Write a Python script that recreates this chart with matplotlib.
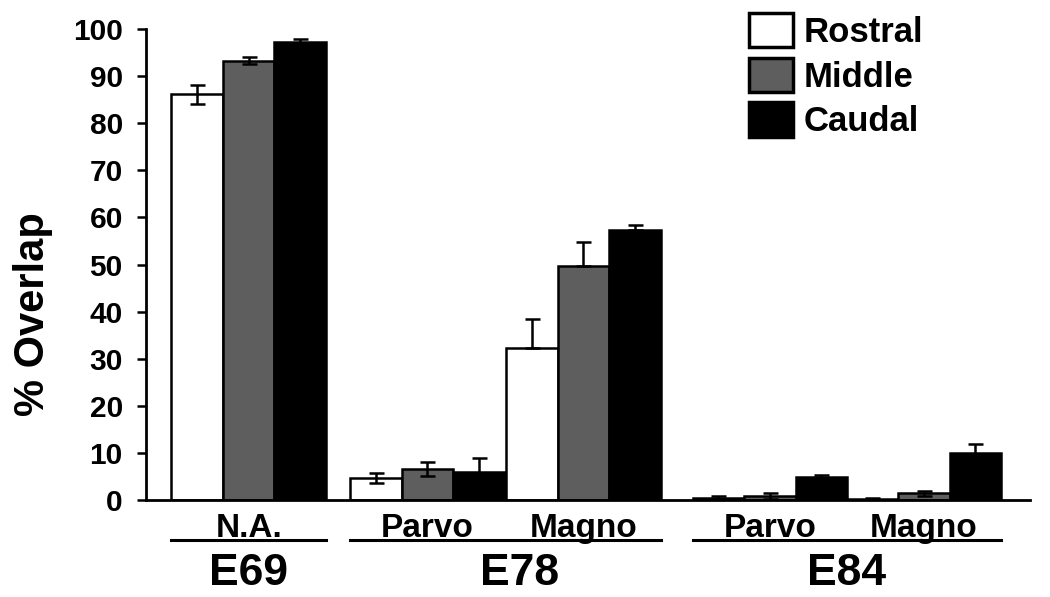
import matplotlib
matplotlib.use("Agg")
import matplotlib.pyplot as plt
import matplotlib.transforms as mtransforms
from matplotlib.lines import Line2D
import numpy as np

plt.rcParams['font.family'] = ['Liberation Sans', 'DejaVu Sans']
plt.rcParams['font.weight'] = 'bold'

# ---- data ----
subgroups = ["N.A.", "Parvo", "Magno", "Parvo", "Magno"]
ages = ["E69", "E78", "E84"]
series = ["Rostral", "Middle", "Caudal"]
rostral = [86.1, 4.7, 32.3, 0.5, 0.2]
middle = [93.3, 6.6, 49.7, 0.9, 1.4]
caudal = [97.2, 6.0, 57.3, 4.8, 9.9]
rostral_err_up = [2.0, 1.0, 6.2, 0.4, 0.2]
middle_err_up = [0.8, 1.5, 5.0, 0.6, 0.5]
caudal_err_up = [0.6, 2.9, 1.1, 0.5, 1.9]
rostral_err_low = [2.0, 1.0, 0.0, 0.4, 0.2]
middle_err_low = [0.8, 1.5, 0.0, 0.6, 0.5]
caudal_err_low = [0.6, 2.9, 0.0, 0.5, 1.9]
yticks = [0, 10, 20, 30, 40, 50, 60, 70, 80, 90, 100]

# ---- layout ----
group_centers = np.array([2.0, 5.47, 8.5, 12.12, 15.11])
age_members = [[0], [1, 2], [3, 4]]
age_label_offsets = [0.0, 0.27, 0.0]
bar_w = 1.0
colors = ["white", "#5e5e5e", "black"]

fig = plt.figure(figsize=(10.5, 5.97), dpi=100)
ax = fig.add_axes([145.7 / 1050, 97 / 597, (1030 - 145.7) / 1050, 471 / 597])

values = [rostral, middle, caudal]
errors = [(rostral_err_low, rostral_err_up),
          (middle_err_low, middle_err_up),
          (caudal_err_low, caudal_err_up)]
handles = []
for i, (vals, errs, col, name) in enumerate(zip(values, errors, colors, series)):
    xs = group_centers + (i - 1) * bar_w
    b = ax.bar(xs, vals, width=bar_w, color=col, edgecolor="black",
               linewidth=1.8, label=name, zorder=2)
    handles.append(b)
    ax.errorbar(xs, vals, yerr=[errs[0], errs[1]], fmt="none", ecolor="black",
                elinewidth=1.8, capsize=5.4, capthick=1.8, zorder=3)

ax.set_xlim(0, 17.17)
ax.set_ylim(0, 100)
ax.set_yticks(yticks)
ax.set_yticklabels([str(t) for t in yticks], fontsize=21.5, fontweight="bold")
ax.tick_params(axis="y", direction="out", length=6.5, width=1.8, pad=10)
ax.tick_params(axis="x", bottom=False, labelbottom=False)
for s in ["top", "right"]:
    ax.spines[s].set_visible(False)
for s in ["left", "bottom"]:
    ax.spines[s].set_linewidth(2.0)

ax.set_ylabel("% Overlap", fontsize=30, fontweight="bold")
ax.yaxis.set_label_coords(-0.105, 0.395)

# sub-labels and group labels below the axis
trans = mtransforms.blended_transform_factory(ax.transData, ax.transAxes)
for c, lab in zip(group_centers, subgroups):
    ax.text(c, -0.0786, lab, transform=trans, ha="center", va="baseline",
            fontsize=24, fontweight="bold")
for members, age, off in zip(age_members, ages, age_label_offsets):
    left = group_centers[members[0]] - 1.5 * bar_w
    right = group_centers[members[-1]] + 1.5 * bar_w
    ax.add_line(Line2D([left, right], [-0.085, -0.085], transform=trans,
                       color="black", linewidth=2.2, clip_on=False))
    ax.text((left + right) / 2 + off, -0.180, age, transform=trans,
            ha="center", va="baseline", fontsize=32, fontweight="bold")

leg = fig.legend(handles=handles, labels=series, loc="upper left",
                 bbox_to_anchor=(749 / 1050, 1 - 13 / 597), frameon=False,
                 fontsize=25, handlelength=1.27, handleheight=1.15,
                 handletextpad=0.3, labelspacing=0.25, borderpad=0,
                 borderaxespad=0)
for t in leg.get_texts():
    t.set_fontweight("bold")
for p in leg.get_patches():
    p.set_linewidth(2.5)

fig.savefig("out.png", dpi=100)
